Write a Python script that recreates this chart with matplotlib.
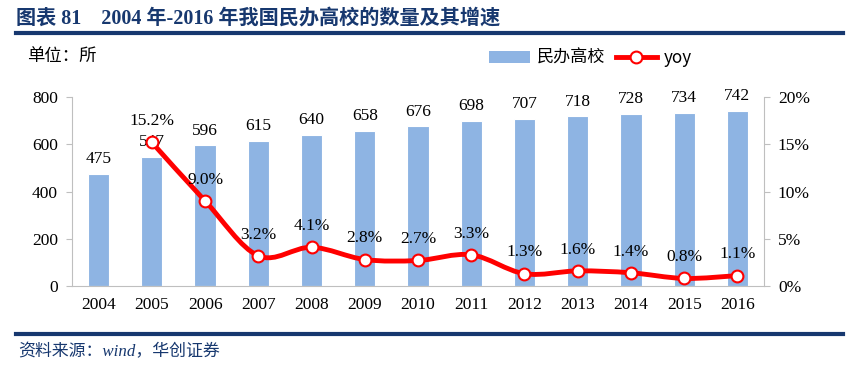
import matplotlib
matplotlib.use("Agg")
import matplotlib.pyplot as plt
from matplotlib.path import Path
from matplotlib.patches import PathPatch
from matplotlib.lines import Line2D
from matplotlib.patches import Patch
import numpy as np

years = ["2004", "2005", "2006", "2007", "2008", "2009", "2010", "2011",
         "2012", "2013", "2014", "2015", "2016"]
counts = [475, 547, 596, 615, 640, 658, 676, 698, 707, 718, 728, 734, 742]
yoy = [None, 15.2, 9.0, 3.2, 4.1, 2.8, 2.7, 3.3, 1.3, 1.6, 1.4, 0.8, 1.1]
left_ticks = [0, 200, 400, 600, 800]
right_ticks = [0, 5, 10, 15, 20]

BAR = "#8eb4e3"
RED = "#ff0000"
NAVY = "#17386f"
serif = ["Liberation Serif", "Noto Sans CJK SC"]
cjk = ["Noto Sans CJK SC", "DejaVu Sans"]
FS = 12.5

fig = plt.figure(figsize=(8.59, 3.78), dpi=100)
ax = fig.add_axes([72/859, 1-286/378, (764-72)/859, (286-97)/378])
x = np.arange(len(years))
ax.bar(x, counts, width=0.4, color=BAR, edgecolor="white", linewidth=0.8, zorder=2)
ax.set_xlim(-0.5, len(years)-0.5)
ax.set_ylim(0, 800)
ax.set_yticks(left_ticks)
ax.set_xticks(x)
ax.set_xticklabels(years)
for s in ["top", "right"]:
    ax.spines[s].set_visible(False)
for s in ["left", "bottom"]:
    ax.spines[s].set_color("#bfbfbf")
ax.tick_params(axis="y", length=4, color="#bfbfbf", labelsize=FS, pad=6)
ax.tick_params(axis="x", length=0, labelsize=FS, pad=8)
for lab in ax.get_xticklabels() + ax.get_yticklabels():
    lab.set_fontfamily(serif)
for xi, c in zip(x, counts):
    ax.text(xi, c + 28, str(c), ha="center", va="bottom", fontsize=FS,
            family=serif, zorder=5)

ax2 = ax.twinx()
ax2.set_ylim(0, 20)
ax2.set_yticks(right_ticks)
ax2.set_yticklabels([f"{t}%" for t in right_ticks])
for s in ["top", "left", "bottom"]:
    ax2.spines[s].set_visible(False)
ax2.spines["right"].set_color("#bfbfbf")
ax2.tick_params(axis="y", length=4, color="#bfbfbf", labelsize=FS, pad=6)
for lab in ax2.get_yticklabels():
    lab.set_fontfamily(serif)

# smooth line through the yoy points (Bezier path)
px = [xi for xi, v in zip(x, yoy) if v is not None]
py = [v for v in yoy if v is not None]
pts = np.column_stack([px, py]).astype(float)
verts = [tuple(pts[0])]
codes = [Path.MOVETO]
n = len(pts)
for i in range(n - 1):
    p0 = pts[i - 1] if i > 0 else pts[i]
    p1 = pts[i]
    p2 = pts[i + 1]
    p3 = pts[i + 2] if i + 2 < n else pts[i + 1]
    c1 = p1 + (p2 - p0) / 6.0
    c2 = p2 - (p3 - p1) / 6.0
    verts += [tuple(c1), tuple(c2), tuple(p2)]
    codes += [Path.CURVE4] * 3
ax2.add_patch(PathPatch(Path(verts, codes), facecolor="none", edgecolor=RED,
                        linewidth=3.5, zorder=3, capstyle="round", joinstyle="round"))
ax2.plot(px, py, linestyle="none", marker="o", markersize=8.5,
         markerfacecolor="white", markeredgecolor=RED, markeredgewidth=1.5, zorder=4)
for xi, v in zip(px, py):
    ax2.text(xi, v + 1.4, f"{v:.1f}%", ha="center", va="bottom", fontsize=FS,
             family=serif, zorder=5)
ax2.set_ylim(0, 20)

# legend
handles = [Patch(facecolor=BAR, edgecolor="none"),
           Line2D([0], [0], color=RED, linewidth=3.5, marker="o", markersize=8.5,
                  markerfacecolor="white", markeredgecolor=RED, markeredgewidth=1.5)]
leg = fig.legend(handles, ["民办高校", "yoy"], loc="center left",
                 bbox_to_anchor=(489/859, 1-58/378),
                 ncol=2, frameon=False, prop={"family": cjk, "size": 12.3},
                 handlelength=2.4, columnspacing=0.6, handletextpad=0.4,
                 borderaxespad=0, borderpad=0)

# header / footer
fig.text(16/859, 1-18/378, "图表 81    2004 年-2016 年我国民办高校的数量及其增速", ha="left", va="center",
         fontsize=14.5, fontweight="bold", color=NAVY, family=["Liberation Serif", "Noto Sans CJK SC"])
fig.add_artist(Line2D([16/859, 843/859], [1-33/378, 1-33/378], color=NAVY, linewidth=3))
fig.text(27/859, 1-57/378, "单位：所", ha="left", va="center", fontsize=12.5, family=cjk)
fig.add_artist(Line2D([16/859, 843/859], [1-334/378, 1-334/378], color=NAVY, linewidth=3))
fig.text(18/859, 1-352/378, "资料来源：wind，华创证券", ha="left", va="center", fontsize=12.2,
         style="italic", color=NAVY, family=["Liberation Serif", "Noto Sans CJK SC"])

fig.savefig("out.png", dpi=100)
